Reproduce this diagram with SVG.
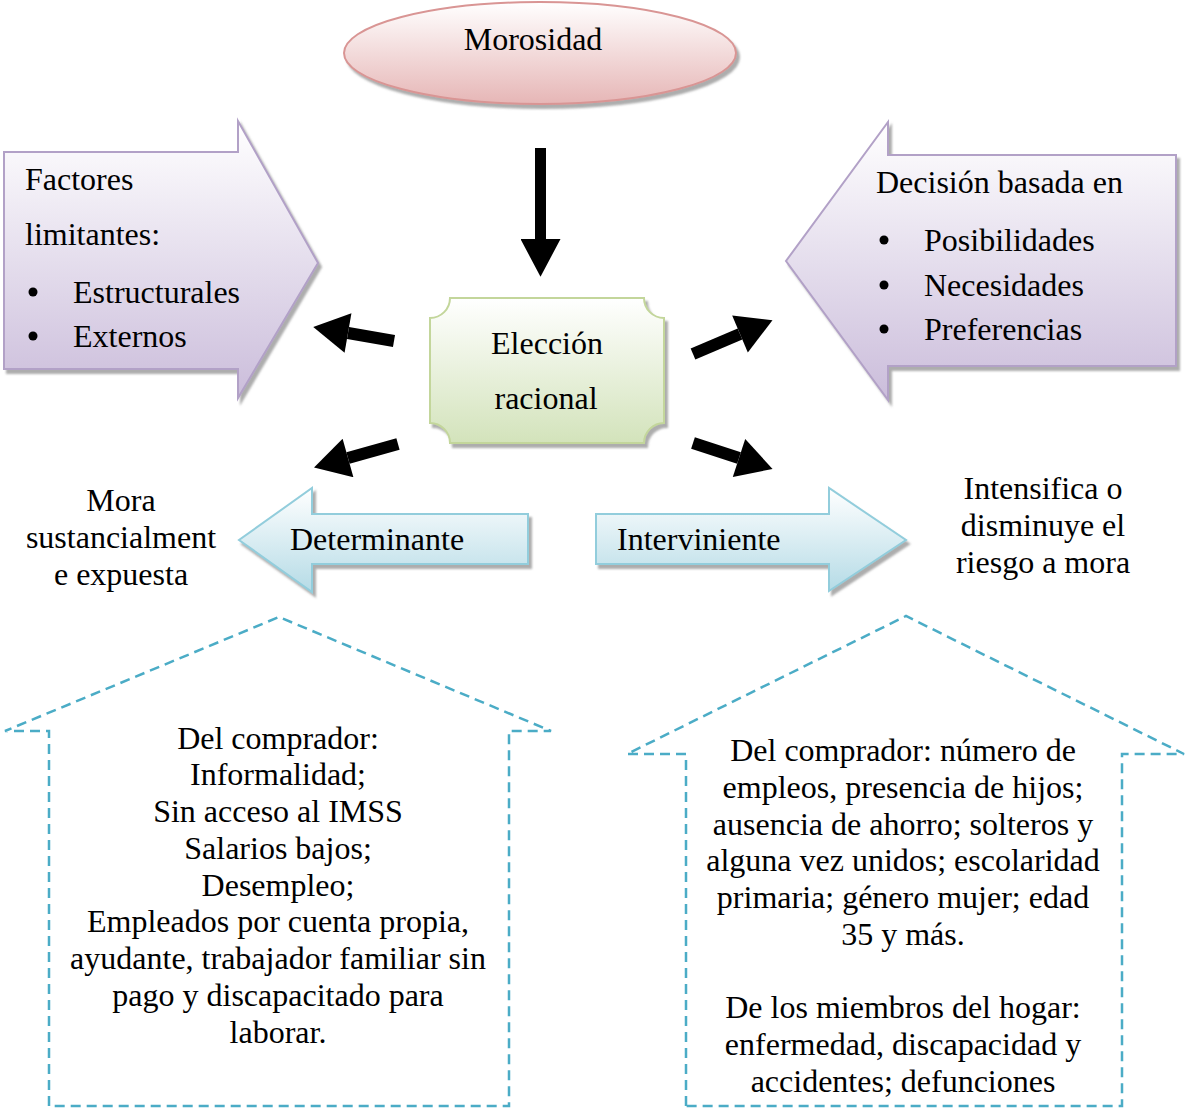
<svg xmlns="http://www.w3.org/2000/svg" width="1186" height="1111" viewBox="0 0 1186 1111">
<style>
text{font-family:"Liberation Serif","Times New Roman",serif;font-size:32px;fill:#000}
.c{text-anchor:middle}
.house{fill:none;stroke:#4bacc6;stroke-width:2.5;stroke-dasharray:10,6}
.conn{stroke:#000;fill:none}
</style>
<defs>
<linearGradient id="gPink" x1="0" y1="0" x2="0" y2="1"><stop offset="0" stop-color="#ffffff"/><stop offset="1" stop-color="#e6b6b6"/></linearGradient>
<linearGradient id="gPurple" x1="0" y1="0" x2="0" y2="1"><stop offset="0" stop-color="#ffffff"/><stop offset="1" stop-color="#cbbddb"/></linearGradient>
<linearGradient id="gGreen" x1="0" y1="0" x2="0" y2="1"><stop offset="0" stop-color="#ffffff"/><stop offset="1" stop-color="#d3e3bb"/></linearGradient>
<linearGradient id="gBlue" x1="0" y1="0" x2="0" y2="1"><stop offset="0" stop-color="#ffffff"/><stop offset="1" stop-color="#b5dbe6"/></linearGradient>
<filter id="sh" x="-10%" y="-10%" width="125%" height="130%"><feDropShadow dx="3" dy="4" stdDeviation="0.8" flood-color="#6b6b6b" flood-opacity="0.55"/></filter>
<marker id="head" markerUnits="userSpaceOnUse" markerWidth="40" markerHeight="40" viewBox="0 0 30 34" refX="0" refY="17" orient="auto"><path d="M0,0 L30,17 L0,34 Z" fill="#000"/></marker>
<marker id="headDown" markerUnits="userSpaceOnUse" markerWidth="40" markerHeight="40" viewBox="0 0 34 36" refX="0" refY="18" orient="auto"><path d="M0,0 L34,18 L0,36 Z" fill="#000"/></marker>
</defs>

<g id="connectors">
<line class="conn" x1="540.5" y1="148" x2="540.5" y2="239" stroke-width="11" marker-end="url(#headDown)"/>
<line class="conn" x1="394" y1="341" x2="348" y2="333" stroke-width="12" marker-end="url(#head)"/>
<line class="conn" x1="398" y1="444" x2="348" y2="458" stroke-width="12" marker-end="url(#head)"/>
<line class="conn" x1="693" y1="354" x2="740" y2="334" stroke-width="12" marker-end="url(#head)"/>
<line class="conn" x1="693" y1="443" x2="739" y2="458" stroke-width="12" marker-end="url(#head)"/>
</g>

<g id="morosidad">
<ellipse cx="540" cy="53" rx="196" ry="51" fill="url(#gPink)" stroke="#d99594" stroke-width="2" filter="url(#sh)"/>
<text class="c" x="533" y="50">Morosidad</text>
</g>

<g id="factores">
<path d="M4,152 H238 V121 L318,263 L238,398 V369 H4 Z" fill="url(#gPurple)" stroke="#b2a1c7" stroke-width="2" filter="url(#sh)"/>
<text x="25" y="190">Factores</text>
<text x="25" y="245">limitantes:</text>
<circle cx="33" cy="292" r="4.5"/>
<text x="73" y="303">Estructurales</text>
<circle cx="33" cy="336" r="4.5"/>
<text x="73" y="347">Externos</text>
</g>

<g id="decision">
<path d="M1176,155 H888 V122 L786,261 L888,400 V366 H1176 Z" fill="url(#gPurple)" stroke="#b2a1c7" stroke-width="2" filter="url(#sh)"/>
<text x="876" y="193">Decisión basada en</text>
<circle cx="884" cy="240" r="4.5"/>
<text x="924" y="251">Posibilidades</text>
<circle cx="884" cy="285" r="4.5"/>
<text x="924" y="296">Necesidades</text>
<circle cx="884" cy="329" r="4.5"/>
<text x="924" y="340">Preferencias</text>
</g>

<g id="eleccion">
<path d="M450,298 H644 A20,20 0 0 0 664,318 V423 A20,20 0 0 0 644,443 H450 A20,20 0 0 0 430,423 V318 A20,20 0 0 0 450,298 Z" fill="url(#gGreen)" stroke="#c3d69b" stroke-width="2" filter="url(#sh)"/>
<text class="c" x="547" y="354">Elección</text>
<text class="c" x="546" y="409">racional</text>
</g>

<g id="determinante">
<path d="M528,514 H312 V488 L239,540 L312,592 V564 H528 Z" fill="url(#gBlue)" stroke="#92cddc" stroke-width="2" filter="url(#sh)"/>
<text x="290" y="550">Determinante</text>
</g>

<g id="interviniente">
<path d="M596,514 H829 V488 L906,540 L829,591 V564 H596 Z" fill="url(#gBlue)" stroke="#92cddc" stroke-width="2" filter="url(#sh)"/>
<text x="617" y="550">Interviniente</text>
</g>

<g id="mora">
<text class="c" x="121" y="511">Mora</text>
<text class="c" x="121" y="548">sustancialment</text>
<text class="c" x="121" y="585">e expuesta</text>
</g>

<g id="intensifica">
<text class="c" x="1043" y="499">Intensifica o</text>
<text class="c" x="1043" y="536">disminuye el</text>
<text class="c" x="1043" y="573">riesgo a mora</text>
</g>

<g id="casa-izquierda">
<path class="house" d="M49,1106 V731 H5 L279,617 L551,731 H509 V1106 Z"/>
<text class="c" x="278" y="749">Del comprador:</text>
<text class="c" x="278" y="785">Informalidad;</text>
<text class="c" x="278" y="822">Sin acceso al IMSS</text>
<text class="c" x="278" y="859">Salarios bajos;</text>
<text class="c" x="278" y="896">Desempleo;</text>
<text class="c" x="278" y="932">Empleados por cuenta propia,</text>
<text class="c" x="278" y="969">ayudante, trabajador familiar sin</text>
<text class="c" x="278" y="1006">pago y discapacitado para</text>
<text class="c" x="278" y="1043">laborar.</text>
</g>

<g id="casa-derecha">
<path class="house" d="M686,1106 V754 H627 L906,616 L1184,754 H1122 V1106 Z"/>
<text class="c" x="903" y="761">Del comprador: número de</text>
<text class="c" x="903" y="798">empleos, presencia de hijos;</text>
<text class="c" x="903" y="835">ausencia de ahorro; solteros y</text>
<text class="c" x="903" y="871">alguna vez unidos; escolaridad</text>
<text class="c" x="903" y="908">primaria; género mujer; edad</text>
<text class="c" x="903" y="945">35 y más.</text>
<text class="c" x="903" y="1018">De los miembros del hogar:</text>
<text class="c" x="903" y="1055">enfermedad, discapacidad y</text>
<text class="c" x="903" y="1092">accidentes; defunciones</text>
</g>
</svg>
